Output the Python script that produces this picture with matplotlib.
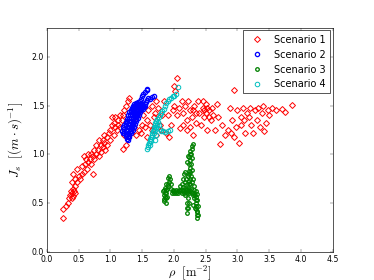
import matplotlib
matplotlib.use("Agg")
import matplotlib.pyplot as plt

# Scenario 1 (red diamonds)
s1 = [(0.25,0.35),(0.25,0.44),(0.30,0.47),(0.33,0.50),(0.35,0.55),(0.37,0.58),(0.38,0.62),(0.40,0.55),
      (0.40,0.60),(0.42,0.57),(0.42,0.65),(0.43,0.62),(0.45,0.60),(0.45,0.68),(0.40,0.72),(0.42,0.80),
      (0.45,0.75),(0.48,0.72),(0.50,0.78),(0.48,0.85),(0.52,0.75),(0.55,0.80),(0.55,0.88),(0.58,0.82),
      (0.58,0.98),(0.60,0.90),(0.62,0.95),(0.63,0.85),(0.65,0.92),(0.65,1.00),(0.68,0.95),(0.70,1.00),
      (0.70,0.90),(0.72,0.98),(0.72,0.80),(0.75,1.05),(0.75,0.95),(0.78,1.10),(0.78,1.00),(0.80,1.05),
      (0.82,1.15),(0.82,0.98),(0.85,1.10),(0.85,1.02),(0.88,1.15),(0.88,1.08),(0.90,1.12),(0.90,1.20),
      (0.92,1.05),(0.95,1.18),(0.95,1.10),(0.98,1.22),(1.00,1.15),(1.00,1.25),(1.02,1.30),(1.02,1.38),
      (1.05,1.20),(1.05,1.32),(1.08,1.28),(1.08,1.38),(1.10,1.25),(1.12,1.35),(1.12,1.30),(1.15,1.40),
      (1.15,1.28),(1.18,1.35),(1.20,1.40),(1.20,1.06),(1.22,1.20),(1.22,1.45),(1.25,1.50),(1.25,1.10),
      (1.28,1.55),(1.30,1.58),(1.32,1.22),(1.35,1.48),(1.38,1.28),(1.40,1.20),(1.45,1.25),(1.48,1.22),
      (1.50,1.30),(1.52,1.40),(1.55,1.28),(1.58,1.35),(1.60,1.45),(1.62,1.30),(1.65,1.50),(1.68,1.38),
      (1.70,1.42),(1.72,1.55),(1.75,1.48),(1.78,1.30),(1.80,1.25),(1.82,1.40),(1.85,1.55),(1.88,1.22),
      (1.90,1.40),(1.92,1.18),(1.95,1.30),(1.98,1.45),(2.00,1.70),(2.00,1.50),(2.02,1.65),(2.05,1.78),
      (2.05,1.40),(2.08,1.48),(2.10,1.27),(2.12,1.55),(2.15,1.42),(2.18,1.50),(2.20,1.35),(2.22,1.55),
      (2.25,1.45),(2.25,1.28),(2.28,1.38),(2.30,1.20),(2.32,1.50),(2.35,1.32),(2.38,1.55),(2.40,1.42),
      (2.42,1.30),(2.45,1.48),(2.48,1.38),(2.50,1.52),(2.50,1.42),(2.52,1.25),(2.55,1.45),(2.58,1.35),
      (2.60,1.48),(2.62,1.40),(2.65,1.25),(2.68,1.52),(2.70,1.38),(2.72,1.11),(2.75,1.30),(2.80,1.20),
      (2.85,1.25),(2.88,1.48),(2.90,1.22),(2.92,1.35),(2.95,1.66),(2.95,1.18),(2.98,1.28),(3.00,1.45),
      (3.02,1.12),(3.05,1.38),(3.05,1.30),(3.08,1.48),(3.10,1.35),(3.12,1.22),(3.15,1.42),(3.18,1.38),
      (3.20,1.48),(3.22,1.30),(3.25,1.22),(3.28,1.45),(3.30,1.35),(3.32,1.48),(3.35,1.28),(3.38,1.42),
      (3.40,1.50),(3.42,1.24),(3.45,1.32),(3.48,1.45),(3.50,1.40),(3.55,1.48),(3.60,1.46),(3.70,1.47),
      (3.75,1.43),(3.85,1.51),(2.45,1.55),(2.48,1.45),(2.52,1.48),(2.55,1.38),(2.35,1.42),(2.30,1.45),
      (2.20,1.25),(2.15,1.30),(1.72,1.20),(1.65,1.25),(1.58,1.18),(1.40,1.42),(1.45,1.45),(1.38,1.35)]

# Scenario 2 (blue circles)
s2 = [(1.18,1.24),(1.20,1.28),(1.22,1.30),(1.24,1.33),(1.26,1.36),(1.28,1.40),(1.30,1.43),(1.32,1.46),
      (1.34,1.48),(1.36,1.50),(1.38,1.52),(1.40,1.53),(1.42,1.52),(1.44,1.54),(1.46,1.55),(1.48,1.57),
      (1.50,1.60),(1.52,1.62),(1.55,1.64),(1.57,1.66),(1.58,1.67),
      (1.22,1.22),(1.24,1.25),(1.26,1.28),(1.28,1.31),(1.30,1.34),(1.32,1.37),(1.34,1.40),(1.36,1.42),
      (1.38,1.45),(1.40,1.47),(1.42,1.49),(1.44,1.50),(1.46,1.52),(1.48,1.53),(1.50,1.52),
      (1.26,1.16),(1.28,1.18),(1.30,1.21),(1.32,1.24),(1.34,1.27),(1.36,1.30),(1.38,1.33),(1.40,1.36),
      (1.42,1.39),(1.44,1.42),(1.46,1.45),(1.48,1.47),(1.50,1.49),(1.52,1.50),(1.54,1.52),(1.56,1.54),
      (1.58,1.56),(1.60,1.58),(1.62,1.57),(1.65,1.59),(1.68,1.60),
      (1.24,1.19),(1.28,1.22),(1.32,1.28),(1.36,1.36),(1.40,1.42),(1.44,1.46),
      (1.20,1.22),(1.22,1.26),(1.25,1.30),(1.27,1.34),(1.29,1.37),(1.31,1.40),(1.33,1.43),(1.35,1.45),
      (1.37,1.48),(1.39,1.50),(1.41,1.51),(1.25,1.21),(1.27,1.25),(1.29,1.28),(1.31,1.31),(1.33,1.34),
      (1.35,1.37),(1.37,1.39),(1.39,1.41),(1.41,1.44),(1.43,1.46),(1.45,1.48),(1.47,1.50),(1.49,1.51),
      (1.28,1.15),(1.30,1.18),(1.33,1.22),(1.35,1.25),(1.37,1.28),(1.39,1.31),(1.41,1.34),(1.43,1.37),
      (1.45,1.40),(1.47,1.43),(1.49,1.45),(1.51,1.47),(1.53,1.49),(1.55,1.50)]

# Scenario 3 (green circles)
s3 = [(2.37,0.35),(2.36,0.38),(2.36,0.41),(2.35,0.44),(2.35,0.47),(2.34,0.50),(2.34,0.53),(2.35,0.56),
      (2.36,0.59),(2.34,0.62),(2.32,0.60),(2.30,0.58),(2.28,0.60),(2.26,0.62),
      (2.24,0.60),(2.22,0.62),(2.20,0.60),(2.18,0.58),(2.16,0.60),(2.14,0.62),(2.12,0.60),(2.10,0.62),
      (2.08,0.63),(2.06,0.62),(2.04,0.63),(2.02,0.62),(2.00,0.60),(1.98,0.62),(1.96,0.65),
      (1.95,0.70),(1.94,0.75),(1.92,0.78),(1.90,0.76),(1.90,0.70),(1.89,0.65),(1.88,0.60),(1.86,0.56),
      (1.85,0.52),(1.87,0.55),(1.88,0.50),(1.84,0.58),(1.83,0.62),(1.86,0.66),
      (2.20,0.40),(2.21,0.45),(2.20,0.50),(2.22,0.55),(2.21,0.65),(2.20,0.70),(2.19,0.75),(2.22,0.78),
      (2.24,0.80),(2.25,0.75),(2.26,0.70),(2.28,0.72),(2.26,0.82),(2.25,0.86),(2.27,0.90),(2.26,0.94),
      (2.24,0.97),(2.25,1.00),(2.26,1.03),(2.28,1.06),(2.29,1.09),(2.30,1.11),
      (2.12,0.70),(2.14,0.75),(2.16,0.80),(2.18,0.82),(2.30,0.75),(2.32,0.68),(2.32,0.55),(2.30,0.48),
      (1.84,0.54),(1.86,0.60),(1.88,0.64),(1.91,0.68),(1.93,0.72),(1.87,0.70),(1.85,0.63),(1.89,0.56),
      (1.97,0.60),(1.99,0.64),(2.03,0.60),(2.07,0.60),(2.11,0.64),(2.15,0.63),(2.19,0.64),(2.23,0.65),
      (2.27,0.65),(2.31,0.63),(2.33,0.58),(2.37,0.53),(2.38,0.47),(2.37,0.42),(2.38,0.38),(2.33,0.45),
      (2.23,0.70),(2.24,0.73),(2.27,0.78),(2.23,0.83),(2.28,0.84),(2.24,0.90),(2.28,0.96),(2.27,1.00),
      (2.21,0.92),(2.22,0.98),(2.17,0.72),(2.14,0.67),(2.10,0.68),(2.18,0.66),(2.22,0.45),(2.24,0.50)]

# Scenario 4 (cyan circles)
s4 = [(1.58,1.06),(1.59,1.08),(1.60,1.10),(1.61,1.12),(1.62,1.14),(1.63,1.16),(1.64,1.18),(1.65,1.20),
      (1.66,1.22),(1.67,1.24),(1.68,1.26),(1.69,1.28),(1.70,1.30),(1.71,1.32),(1.72,1.34),(1.74,1.36),
      (1.76,1.38),(1.78,1.40),(1.80,1.42),(1.82,1.44),(1.84,1.47),(1.86,1.50),(1.88,1.53),(1.90,1.55),
      (1.92,1.57),(1.95,1.58),(1.98,1.60),(2.00,1.60),(2.03,1.62),(2.07,1.69),
      (1.62,1.10),(1.64,1.14),(1.66,1.18),(1.68,1.22),(1.70,1.25),(1.72,1.28),(1.74,1.30),
      (1.75,1.33),(1.76,1.30),(1.78,1.26),(1.80,1.24),(1.83,1.24),(1.86,1.23),(1.90,1.24),(1.94,1.25),
      (1.72,1.20),(1.70,1.15)]

labels = ["Scenario 1", "Scenario 2", "Scenario 3", "Scenario 4"]

plt.style.use("classic")
fig = plt.figure(figsize=(8, 6), dpi=46.75, facecolor="white")
ax = fig.add_subplot(111)
fig.subplots_adjust(left=0.125, right=0.89, bottom=0.1, top=0.9)

specs = [(s1, "D", "r", 6.5, 1.5), (s2, "o", "b", 6.5, 2.0), (s3, "o", "g", 5.5, 2.0), (s4, "o", "c", 7, 1.5)]
for (data, mk, col, ms, mw), lab in zip(specs, labels):
    xs = [p[0] for p in data]
    ys = [p[1] for p in data]
    ax.plot(xs, ys, linestyle="none", marker=mk, markersize=ms, mfc="none",
            mec=col, mew=mw, label=lab)

ax.set_xlim(0, 4.5)
ax.set_ylim(0, 2.3)
ax.set_xticks([0, 0.5, 1.0, 1.5, 2.0, 2.5, 3.0, 3.5, 4.0, 4.5])
ax.set_yticks([0, 0.5, 1.0, 1.5, 2.0])
ax.set_xlabel(r"$\rho\ \ [\mathrm{m}^{-2}]$", fontsize=19, labelpad=-1)
ax.set_ylabel(r"$J_s\ \ [(m\cdot s)^{-1}]$", fontsize=20, labelpad=10)
ax.tick_params(labelsize=12)
ax.legend(loc="upper right", numpoints=1, fontsize=15, borderaxespad=0.3)
fig.savefig("out.png", dpi=46.75, facecolor="white")
